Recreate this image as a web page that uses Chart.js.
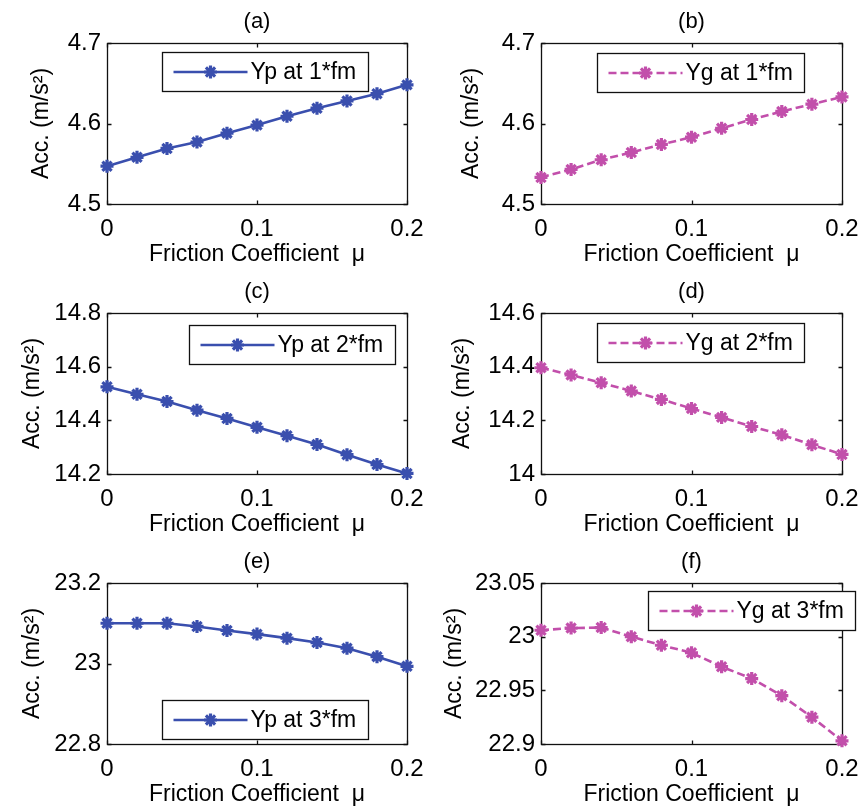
<!DOCTYPE html>
<html><head><meta charset="utf-8">
<script src="https://cdn.jsdelivr.net/npm/chart.js@4.4.1/dist/chart.umd.min.js"></script>
<style>
html,body{margin:0;padding:0;background:#fff;}
#wrap{position:relative;width:861px;height:810px;overflow:hidden;background:#fff;}
canvas{position:absolute;}
</style></head><body><div id="wrap"></div>
<script>
// ---------- data ----------
const muValues = [0, 0.02, 0.04, 0.06, 0.08, 0.10, 0.12, 0.14, 0.16, 0.18, 0.20];
const xTickValues = [0, 0.1, 0.2];
const panelTitles = ['(a)', '(b)', '(c)', '(d)', '(e)', '(f)'];
const seriesLabels = ['Yp at 1*fm', 'Yg at 1*fm', 'Yp at 2*fm', 'Yg at 2*fm', 'Yp at 3*fm', 'Yg at 3*fm'];
const ypAt1fm = [4.547, 4.558, 4.569, 4.577, 4.588, 4.598, 4.609, 4.619, 4.628, 4.637, 4.648];
const ygAt1fm = [4.533, 4.543, 4.555, 4.564, 4.574, 4.583, 4.594, 4.605, 4.615, 4.624, 4.633];
const ypAt2fm = [14.525, 14.497, 14.470, 14.438, 14.407, 14.374, 14.343, 14.310, 14.272, 14.235, 14.202];
const ygAt2fm = [14.396, 14.369, 14.340, 14.309, 14.278, 14.244, 14.211, 14.177, 14.146, 14.109, 14.073];
const ypAt3fm = [23.100, 23.100, 23.100, 23.092, 23.082, 23.073, 23.063, 23.052, 23.038, 23.017, 22.993];
const ygAt3fm = [23.006, 23.008, 23.0085, 23.000, 22.992, 22.985, 22.972, 22.961, 22.945, 22.925, 22.903];
const yTicksA = [4.5, 4.6, 4.7];
const yTicksB = [4.5, 4.6, 4.7];
const yTicksC = [14.2, 14.4, 14.6, 14.8];
const yTicksD = [14, 14.2, 14.4, 14.6];
const yTicksE = [22.8, 23, 23.2];
const yTicksF = [22.9, 22.95, 23, 23.05];
const xAxisTitle = 'Friction Coefficient  \u03bc';
const yAxisTitle = 'Acc. (m/s\u00b2)';

// ---------- styles / layout ----------
const FONT = 'Liberation Sans, Arial, Helvetica, sans-serif';
const BLUE = '#3a4fae';
const MAGENTA = '#c24fab';
const panels = [
  {series: ypAt1fm, ticks: yTicksA, color: BLUE,    dashed: false, cx: 0,   cy: 0,   w: 430, yw: 107, rp: 23, legend: {dx: 55, dy: 9},    yTitleX: 42},
  {series: ygAt1fm, ticks: yTicksB, color: MAGENTA, dashed: true,  cx: 430, cy: 0,   w: 431, yw: 111, rp: 19, legend: {dx: 56, dy: 10},   yTitleX: 42},
  {series: ypAt2fm, ticks: yTicksC, color: BLUE,    dashed: false, cx: 0,   cy: 270, w: 430, yw: 107, rp: 23, legend: {dx: 82, dy: 12},   yTitleX: 33},
  {series: ygAt2fm, ticks: yTicksD, color: MAGENTA, dashed: true,  cx: 430, cy: 270, w: 431, yw: 111, rp: 19, legend: {dx: 56, dy: 10},   yTitleX: 33},
  {series: ypAt3fm, ticks: yTicksE, color: BLUE,    dashed: false, cx: 0,   cy: 540, w: 430, yw: 107, rp: 23, legend: {dx: 55, dy: 117},  yTitleX: 33},
  {series: ygAt3fm, ticks: yTicksF, color: MAGENTA, dashed: true,  cx: 430, cy: 540, w: 431, yw: 111, rp: 19, legend: {dx: 107, dy: 8},   yTitleX: 25}
];
const CH = 270;

function drawStar(ctx, x, y, r) {
  ctx.beginPath();
  for (let k = 0; k < 4; k++) {
    const a = k * Math.PI / 4;
    ctx.moveTo(x - Math.cos(a) * r, y - Math.sin(a) * r);
    ctx.lineTo(x + Math.cos(a) * r, y + Math.sin(a) * r);
  }
  ctx.stroke();
}

const framePlugin = {
  id: 'frameTicks',
  beforeDatasetsDraw(chart) {
    const {ctx, chartArea: a, scales: {x, y}} = chart;
    ctx.save();
    ctx.strokeStyle = '#111';
    ctx.lineWidth = 1.3;
    const L = Math.round(a.left) + 0.5, R = Math.round(a.right) + 0.5;
    const T = Math.round(a.top) + 0.5, B = Math.round(a.bottom) + 0.5;
    ctx.strokeRect(L, T, R - L, B - T);
    const tl = 4;
    ctx.beginPath();
    x.ticks.forEach(t => {
      const px = Math.round(x.getPixelForValue(t.value)) + 0.5;
      ctx.moveTo(px, B); ctx.lineTo(px, B - tl);
      ctx.moveTo(px, T); ctx.lineTo(px, T + tl);
    });
    y.ticks.forEach(t => {
      const py = Math.round(y.getPixelForValue(t.value)) + 0.5;
      ctx.moveTo(L, py); ctx.lineTo(L + tl, py);
      ctx.moveTo(R, py); ctx.lineTo(R - tl, py);
    });
    ctx.stroke();
    ctx.restore();
  }
};

const panelTitlePlugin = {
  id: 'panelTitle',
  afterDraw(chart, args, opts) {
    const {ctx, chartArea: a} = chart;
    ctx.save();
    ctx.font = '22px ' + FONT;
    ctx.fillStyle = '#000';
    ctx.textAlign = 'center';
    ctx.textBaseline = 'middle';
    ctx.fillText(opts.text, (a.left + a.right) / 2, a.top - 21);
    ctx.restore();
  }
};

const boxLegendPlugin = {
  id: 'boxLegend',
  afterDatasetsDraw(chart, args, opts) {
    const {ctx, chartArea: a} = chart;
    const ds = chart.data.datasets[0];
    ctx.save();
    ctx.font = '23px ' + FONT;
    const tw = ctx.measureText(ds.label).width;
    const bx = Math.round(a.left + opts.dx) + 0.5;
    const by = Math.round(a.top + opts.dy) + 0.5;
    const bw = Math.round(88 + tw + 12), bh = 39;
    ctx.fillStyle = '#fff';
    ctx.fillRect(bx, by, bw, bh);
    ctx.strokeStyle = '#111';
    ctx.lineWidth = 1.3;
    ctx.strokeRect(bx, by, bw, bh);
    const my = by + bh / 2;
    ctx.strokeStyle = ds.borderColor;
    ctx.lineWidth = ds.borderWidth;
    ctx.setLineDash(ds.borderDash || []);
    ctx.beginPath();
    ctx.moveTo(bx + 11, my); ctx.lineTo(bx + 85, my);
    ctx.stroke();
    ctx.setLineDash([]);
    ctx.lineWidth = ds.pointBorderWidth;
    drawStar(ctx, bx + 48, my, ds.pointRadius);
    ctx.fillStyle = '#000';
    ctx.textBaseline = 'middle';
    ctx.textAlign = 'left';
    ctx.fillText(ds.label, bx + 88, my + 1);
    ctx.restore();
  }
};

const wrap = document.getElementById('wrap');
panels.forEach((p, i) => {
  const cv = document.createElement('canvas');
  cv.width = p.w; cv.height = CH;
  cv.style.left = p.cx + 'px'; cv.style.top = p.cy + 'px';
  cv.style.width = p.w + 'px'; cv.style.height = CH + 'px';
  wrap.appendChild(cv);
  const pts = muValues.map((m, k) => ({x: m, y: p.series[k]}));
  new Chart(cv.getContext('2d'), {
    type: 'line',
    data: {
      datasets: [{
        label: seriesLabels[i],
        data: pts,
        borderColor: p.color,
        backgroundColor: p.color,
        borderWidth: 2.6,
        borderDash: p.dashed ? [8, 4] : [],
        pointStyle: 'star',
        pointRadius: 6.5,
        pointBorderWidth: 3.2,
        pointBorderColor: p.color,
        pointBackgroundColor: p.color,
        tension: 0,
        fill: false,
        clip: false
      }]
    },
    options: {
      responsive: false,
      animation: false,
      devicePixelRatio: 1,
      layout: {padding: {left: 0, right: p.rp, top: 43, bottom: 0}},
      plugins: {
        legend: {display: false},
        tooltip: {enabled: false},
        title: {display: false},
        panelTitle: {text: panelTitles[i]},
        boxLegend: p.legend
      },
      scales: {
        x: {
          type: 'linear', min: 0, max: 0.2,
          afterBuildTicks: s => { s.ticks = xTickValues.map(v => ({value: v})); },
          afterFit: s => { s.height = 66; s.paddingLeft = 0; s.paddingRight = 0; },
          grid: {display: false, drawTicks: false},
          border: {display: false},
          ticks: {autoSkip: false, maxRotation: 0, padding: 11, color: '#000',
                  font: {family: FONT, size: 24}, callback: v => String(v)},
          title: {display: true, text: xAxisTitle, color: '#000',
                  font: {family: FONT, size: 23}, padding: {top: 0, bottom: 1.2}}
        },
        y: {
          type: 'linear', min: p.ticks[0], max: p.ticks[p.ticks.length - 1],
          afterBuildTicks: s => { s.ticks = p.ticks.map(v => ({value: v})); },
          afterFit: s => { s.width = p.yw; s.paddingTop = 0; s.paddingBottom = 0; },
          grid: {display: false, drawTicks: false},
          border: {display: false},
          ticks: {autoSkip: false, padding: 6, color: '#000',
                  font: {family: FONT, size: 24}, callback: v => String(v)},
          title: {display: true, text: yAxisTitle, color: '#000',
                  font: {family: FONT, size: 23}, padding: {top: p.yTitleX - 13.8, bottom: 0}}
        }
      }
    },
    plugins: [framePlugin, panelTitlePlugin, boxLegendPlugin]
  });
});
</script></body></html>
